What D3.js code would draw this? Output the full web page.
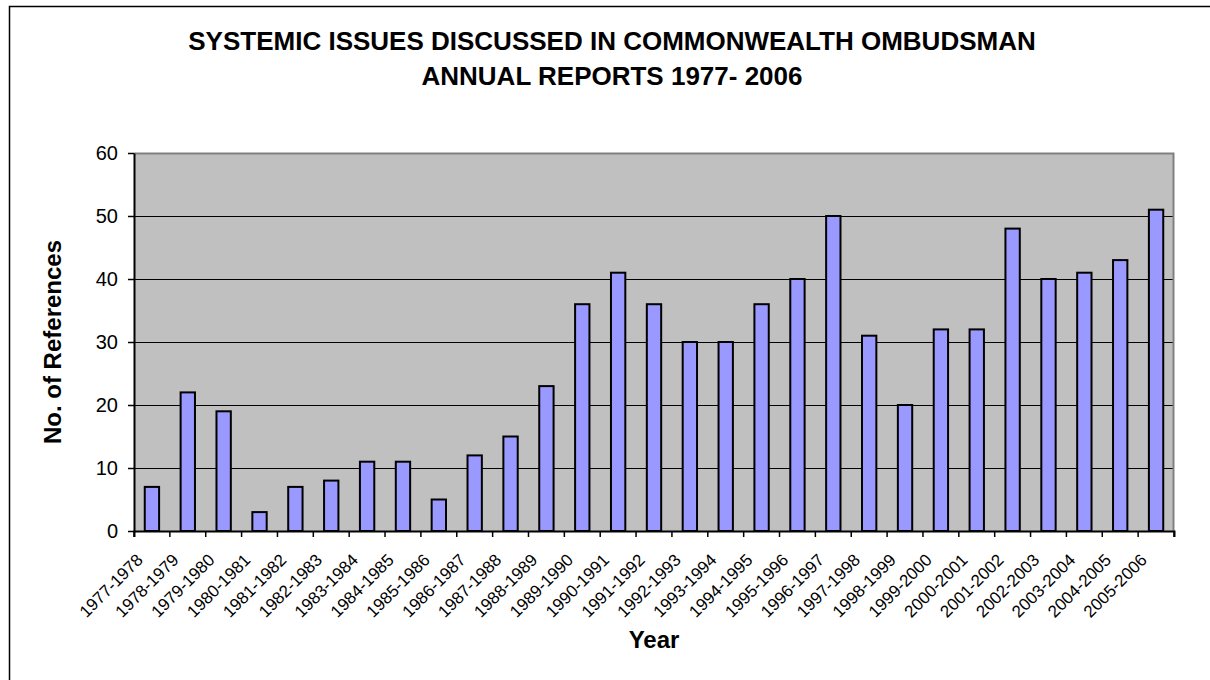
<!DOCTYPE html>
<html>
<head>
<meta charset="utf-8">
<script src="https://cdn.jsdelivr.net/npm/d3@7"></script>
<style>
  body { margin: 0; background: #fff; }
  svg { display: block; font-family: "Liberation Sans", Arial, sans-serif; }
</style>
</head>
<body>
<div id="chart"></div>
<script>
// Report years and the number of systemic issues referenced in each
const years = ["1977-1978", "1978-1979", "1979-1980", "1980-1981", "1981-1982", "1982-1983",
  "1983-1984", "1984-1985", "1985-1986", "1986-1987", "1987-1988", "1988-1989", "1989-1990",
  "1990-1991", "1991-1992", "1992-1993", "1993-1994", "1994-1995", "1995-1996", "1996-1997",
  "1997-1998", "1998-1999", "1999-2000", "2000-2001", "2001-2002", "2002-2003", "2003-2004",
  "2004-2005", "2005-2006"];
const references = [7, 22, 19, 3, 7, 8, 11, 11, 5, 12, 15, 23, 36, 41, 36, 30, 30, 36, 40, 50,
  31, 20, 32, 32, 48, 40, 41, 43, 51];
const yTicks = [0, 10, 20, 30, 40, 50, 60];
const titleLines = ["SYSTEMIC ISSUES DISCUSSED IN COMMONWEALTH OMBUDSMAN", "ANNUAL REPORTS 1977- 2006"];

// Page and plot dimensions
const W = 1210, H = 680;
const margin = { top: 153, right: 36, bottom: 149, left: 134 };
const width = W - margin.left - margin.right;
const height = H - margin.top - margin.bottom;

const root = d3.select('#chart')
  .append('svg')
  .attr('width', W)
  .attr('height', H);

// Chart area frame (runs off the right and bottom edge)
root.append('rect')
  .attr('x', 9.5).attr('y', 6.5)
  .attr('width', 1240).attr('height', 700)
  .attr('fill', 'none')
  .attr('stroke', '#000')
  .attr('stroke-width', 1.5);

// Title
root.append('text')
  .attr('x', 612)
  .attr('text-anchor', 'middle')
  .attr('font-size', 26)
  .attr('font-weight', 'bold')
  .selectAll('tspan')
  .data(titleLines)
  .enter()
  .append('tspan')
  .attr('x', 612)
  .attr('y', (d, i) => 50 + i * 35)
  .text(d => d);

const svg = root.append('g')
  .attr('transform', `translate(${margin.left}, ${margin.top})`);

// Scales
const x = d3.scaleBand()
  .domain(years)
  .range([0, width])
  .paddingInner(0.6)
  .paddingOuter(0.3);

const y = d3.scaleLinear()
  .domain([0, 60])
  .range([height, 0]);

// Plot background
svg.append('rect')
  .attr('width', width)
  .attr('height', height)
  .attr('fill', '#c0c0c0');

// Gridlines (10..50), black
svg.append('g')
  .call(d3.axisLeft(y).tickValues(yTicks.filter(t => t > 0 && t < 60)).tickSize(-width).tickFormat(''))
  .call(g => g.select('.domain').remove())
  .call(g => g.selectAll('line').attr('stroke', '#000').attr('stroke-width', 1));

// Grey plot border on top and right
svg.append('path')
  .attr('d', `M0,0.5H${width - 0.5}V${height}`)
  .attr('fill', 'none')
  .attr('stroke', '#808080')
  .attr('stroke-width', 2);

// Bars
svg.selectAll('.bar')
  .data(references)
  .enter()
  .append('rect')
  .attr('class', 'bar')
  .attr('x', (d, i) => x(years[i]))
  .attr('y', d => y(d))
  .attr('width', x.bandwidth())
  .attr('height', d => y(0) - y(d))
  .attr('fill', '#9999ff')
  .attr('stroke', '#000')
  .attr('stroke-width', 2);

// Y axis
svg.append('g')
  .call(d3.axisLeft(y).tickValues(yTicks).tickSize(6).tickPadding(10).tickSizeOuter(0))
  .call(g => g.select('.domain').attr('stroke', '#000').attr('stroke-width', 2))
  .call(g => g.selectAll('line').attr('stroke', '#000').attr('stroke-width', 1.5))
  .call(g => g.selectAll('text').attr('font-size', 20).attr('fill', '#000').attr('font-family', null));

// X axis: ticks sit on the category boundaries, labels rotated
const xAxis = svg.append('g')
  .attr('transform', `translate(0, ${height})`)
  .call(d3.axisBottom(x).tickSizeOuter(0).tickSize(6));

xAxis.select('.domain').attr('stroke', '#000').attr('stroke-width', 2);
xAxis.selectAll('.tick line')
  .attr('x1', x.step() / 2).attr('x2', x.step() / 2)
  .attr('stroke', '#000').attr('stroke-width', 1.5);
xAxis.append('line')
  .attr('y2', 6)
  .attr('stroke', '#000').attr('stroke-width', 1.5);
xAxis.selectAll('.tick text')
  .attr('x', 0).attr('y', 0).attr('dy', null)
  .attr('transform', 'translate(-8, 30) rotate(-45)')
  .attr('text-anchor', 'end')
  .attr('font-size', 17)
  .attr('font-family', null)
  .attr('fill', '#000');

// Axis titles
root.append('text')
  .attr('transform', `translate(61, ${margin.top + height / 2}) rotate(-90)`)
  .attr('text-anchor', 'middle')
  .attr('font-size', 24)
  .attr('font-weight', 'bold')
  .text('No. of References');

root.append('text')
  .attr('x', margin.left + width / 2)
  .attr('y', 648)
  .attr('text-anchor', 'middle')
  .attr('font-size', 24)
  .attr('font-weight', 'bold')
  .text('Year');
</script>
</body>
</html>
